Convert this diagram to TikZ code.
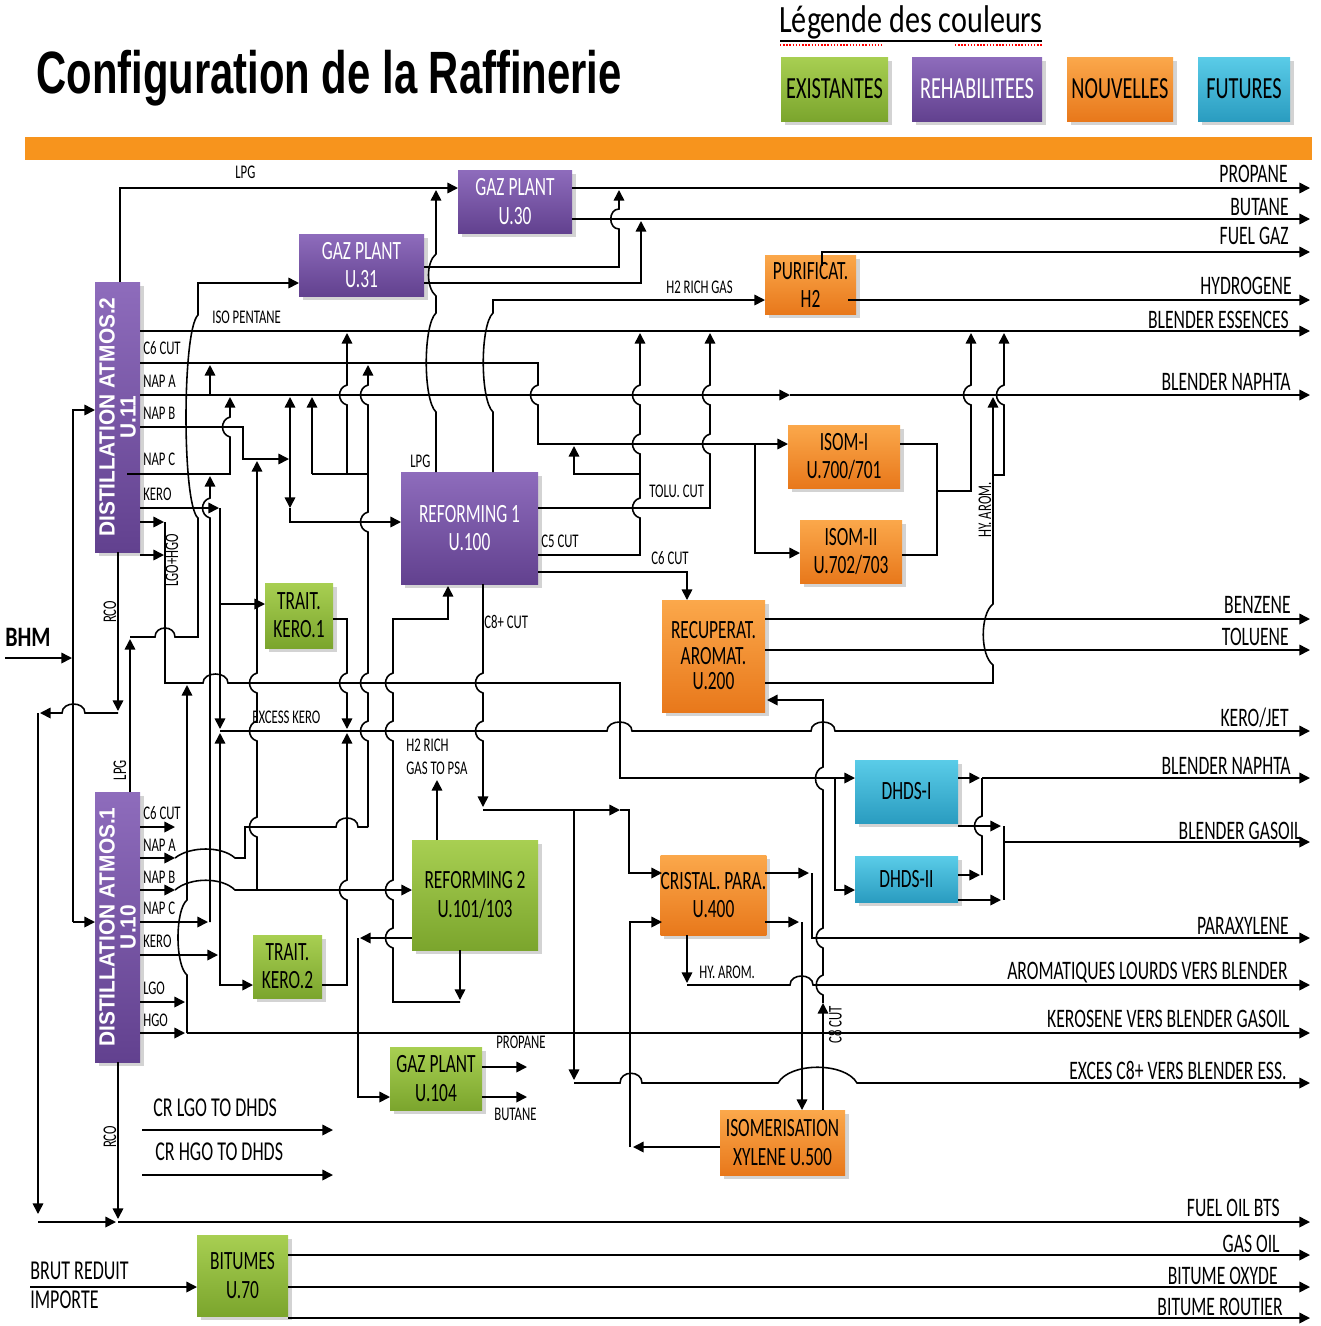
\documentclass[tikz,border=0pt]{standalone}
\usepackage{fontspec}
\setmainfont[FakeStretch=0.66]{Carlito}
\newfontfamily\titlefont[FakeStretch=0.7]{Liberation Sans}
\newfontfamily\distfont[FakeStretch=0.95]{Liberation Sans}
\newfontfamily\legfont[FakeStretch=0.78]{Carlito}
\usetikzlibrary{arrows.meta,shadows,positioning}

\definecolor{barorange}{HTML}{F7941D}
\definecolor{violetT}{HTML}{8E6CBC}
\definecolor{violetB}{HTML}{62418F}
\definecolor{vertT}{HTML}{A8CF52}
\definecolor{vertB}{HTML}{7BA52D}
\definecolor{orT}{HTML}{FBA84B}
\definecolor{orB}{HTML}{E8781B}
\definecolor{cyT}{HTML}{5ACCE8}
\definecolor{cyB}{HTML}{2A9CC0}

\tikzset{
  ln/.style={line width=0.9pt},
  arr/.style={ln, -{Triangle[length=6pt,width=6pt]}},
  plant/.style={rectangle, inner sep=0pt, align=center, font=\fontsize{15}{16}\selectfont,
    drop shadow={shadow xshift=2pt, shadow yshift=-2pt, opacity=0.35}},
  dim/.style 2 args={minimum width=#1*0.02cm, minimum height=#2*0.02cm},
  existing/.style={plant, top color=vertT, bottom color=vertB, text=black},
  rehab/.style={plant, top color=violetT, bottom color=violetB, text=white},
  newunit/.style={plant, top color=orT, bottom color=orB, text=black},
  future/.style={plant, top color=cyT, bottom color=cyB, text=black},
  lab/.style={font=\fontsize{11}{12}\selectfont, inner sep=0pt, anchor=west},
  rlab/.style={font=\fontsize{11}{12}\selectfont, inner sep=0pt, rotate=90},
  outlab/.style={font=\fontsize{15.2}{16}\selectfont, anchor=base east, inner sep=0pt},
  leglab/.style={font=\fontsize{17.5}{18}\selectfont},
  sidelab/.style={font=\fontsize{15.5}{17}\selectfont, anchor=west, inner sep=0pt},
  distlab/.style={font=\distfont\bfseries\fontsize{12.5}{12}\selectfont, text=white,
    rotate=90, align=center, inner sep=0pt},
}

\begin{document}
\begin{tikzpicture}[x=0.02cm, y=-0.02cm]
\useasboundingbox (0,0) rectangle (1320,1326);

% title and legend
\node[font=\titlefont\bfseries\fontsize{34}{36}\selectfont] (title) at (329,78) {Configuration de la Raffinerie};
\node[font=\legfont\fontsize{22}{24}\selectfont, inner sep=0pt] (legtitle) at (911,22) {Légende des couleurs};
\draw[line width=0.7pt] (780,41) -- (1042,41);
\draw[red, densely dotted, line width=0.8pt] (780,45) -- (882,45) (955,45) -- (1042,45);
\node[existing, dim={107}{64}, leglab] (legexist) at (834.5,89) {EXISTANTES};
\node[rehab, dim={130}{64}, leglab] (legrehab) at (977,89) {REHABILITEES};
\node[newunit, dim={106}{64}, leglab] (legnew) at (1120,89) {NOUVELLES};
\node[future, dim={92}{64}, leglab] (legfut) at (1244,89) {FUTURES};
\fill[barorange] (25,137) rectangle (1312,160);

% units
\node[rehab, dim={45}{270}] (atm2) at (117.5,417) {};
\node[distlab] (atm2txt) at (atm2) {DISTILLATION ATMOS.2\\U.11};
\node[rehab, dim={45}{270}] (atm1) at (117.5,927) {};
\node[distlab] (atm1txt) at (atm1) {DISTILLATION ATMOS.1\\U.10};
\node[rehab, dim={114}{63}] (gp30) at (515,201.5) {GAZ PLANT\\U.30};
\node[rehab, dim={125}{62}] (gp31) at (361.5,265) {GAZ PLANT\\U.31};
\node[rehab, dim={137}{112}] (ref1) at (469.5,528) {REFORMING 1\\U.100};
\node[newunit, dim={91}{59}] (purif) at (810.5,284.5) {PURIFICAT.\\H2};
\node[newunit, dim={112}{63}] (isom1) at (844,456.5) {ISOM-I\\U.700/701};
\node[newunit, dim={102}{63}] (isom2) at (851,551.5) {ISOM-II\\U.702/703};
\node[newunit, dim={103}{112}, font=\fontsize{15}{14.5}\selectfont] (recup) at (713.5,656) {RECUPERAT.\\AROMAT.\\U.200};
\node[newunit, dim={103}{80}] (cristal) at (713.5,895) {CRISTAL. PARA.\\U.400};
\node[newunit, dim={125}{65}] (isox) at (782.5,1142.5) {ISOMERISATION\\XYLENE U.500};
\node[existing, dim={68}{65}] (tk1) at (299,615.5) {TRAIT.\\KERO.1};
\node[existing, dim={69}{63}] (tk2) at (287.5,966.5) {TRAIT.\\KERO.2};
\node[existing, dim={126}{110}] (ref2) at (475,895) {REFORMING 2\\U.101/103};
\node[existing, dim={92}{63}] (gp104) at (436,1078.5) {GAZ PLANT\\U.104};
\node[existing, dim={91}{81}] (bit) at (242.5,1275.5) {BITUMES\\U.70};
\node[future, dim={103}{63}] (dhds1) at (906.5,791.5) {DHDS-I};
\node[future, dim={103}{46}] (dhds2) at (906.5,879) {DHDS-II};

% straight product lines to the right
\foreach \yy/\xx in {188/572, 219/572, 300/848, 331/140, 619/765, 650/765, 842/1004,
  1033/187, 1222/118, 1255/288, 1287/288, 1318/288}
  \draw[arr] (\xx,\yy) -- (1310,\yy);
\node[outlab] (oProp) at (1288,182) {PROPANE};
\node[outlab] (oBut) at (1289,215) {BUTANE};
\node[outlab] (oFuel) at (1289,244) {FUEL GAZ};
\node[outlab] (oHyd) at (1292,294) {HYDROGENE};
\node[outlab] (oEss) at (1289,328) {BLENDER ESSENCES};
\node[outlab] (oNap) at (1291,390) {BLENDER NAPHTA};
\node[outlab] (oBenz) at (1291,613) {BENZENE};
\node[outlab] (oTol) at (1289,645) {TOLUENE};
\node[outlab] (oJet) at (1289,726) {KERO/JET};
\node[outlab] (oNap2) at (1291,774) {BLENDER NAPHTA};
\node[outlab] (oGas) at (1302,839) {BLENDER GASOIL};
\node[outlab] (oPara) at (1289,934) {PARAXYLENE};
\node[outlab] (oArom) at (1288,979) {AROMATIQUES LOURDS VERS BLENDER};
\node[outlab] (oKer) at (1290,1027) {KEROSENE VERS BLENDER GASOIL};
\node[outlab] (oExc) at (1287,1079) {EXCES C8+ VERS BLENDER ESS.};
\node[outlab] (oFo) at (1280,1216) {FUEL OIL BTS};
\node[outlab] (oGo) at (1280,1252) {GAS OIL};
\node[outlab] (oBo) at (1278,1284) {BITUME OXYDE};
\node[outlab] (oBr) at (1283,1315) {BITUME ROUTIER};

% top: LPG and gaz plants
\draw[arr] (120,282) -- (120,188) -- (458,188);
\draw[arr] (424,267) -- (619,267) -- (619,229) .. controls (608,229) and (608,209) .. (619,209) -- (619,190);
\draw[arr] (424,283) -- (641,283) -- (641,221);
\draw[arr] (130,792) -- (130,639);
\draw[arr] (130,637) -- (155,637) .. controls (155,625) and (175,625) .. (175,637) -- (198,637) -- (198,518)
  .. controls (182,505) and (182,330) .. (198,315) -- (198,283) -- (299,283);
\draw[arr] (436,472) -- (436,412) .. controls (423,400) and (423,325) .. (436,313) -- (436,296)
  .. controls (426,288) and (426,262) .. (436,254) -- (436,190);
\draw[arr] (493,472) -- (493,412) .. controls (480,400) and (480,325) .. (493,313) -- (493,300) -- (765,300);
\draw[arr] (822,266) -- (822,252) -- (1310,252);

% ATMOS.2 cuts
\draw[arr] (140,363) -- (538,363) -- (538,385) .. controls (528,388) and (528,402) .. (538,405) -- (538,444) -- (788,444);
\draw[arr] (140,395) -- (790,395);
\draw[arr] (790,395) -- (1310,395);
\draw[arr] (210,395) -- (210,365);
\draw[arr] (140,427) -- (243,427) -- (243,459) -- (289,459);
\draw[arr] (290,459) -- (290,397);
\draw[arr] (290,459) -- (290,508);
\draw[arr] (290,508) -- (290,522) -- (401,522);
\draw[arr] (127,474) -- (230,474) -- (230,437) .. controls (220,434) and (220,420) .. (230,417) -- (230,397);
\draw[arr] (140,508) -- (219,508);
\draw[arr] (220,508) -- (220,604) -- (265,604);
\draw[arr] (220,604) -- (220,729);
\draw[arr] (140,522) -- (164,522);
\draw[arr] (140,555) -- (164,555);
\draw[arr] (165,522) -- (165,683) -- (203,683) .. controls (203,671) and (228,671) .. (228,683) -- (620,683) -- (620,778) -- (855,778);
\draw[arr] (835,778) -- (835,890) -- (855,890);

% naphtha branches
\draw[arr] (368,827) -- (368,741) .. controls (358,738) and (358,724) .. (368,721) -- (368,693)
  .. controls (358,690) and (358,676) .. (368,673) -- (368,532) .. controls (358,529) and (358,515) .. (368,512)
  -- (368,405) .. controls (358,402) and (358,388) .. (368,385) -- (368,365);
\draw[ln] (312,474) -- (368,474);
\draw[arr] (312,474) -- (312,397);
\draw[arr] (347,474) -- (347,405) .. controls (337,402) and (337,388) .. (347,385) -- (347,333);

% kero
\draw[arr] (333,619) -- (347,619) -- (347,673) .. controls (337,676) and (337,690) .. (347,693) -- (347,729);
\draw[arr] (220,731) -- (607,731) .. controls (607,719) and (632,719) .. (632,731) -- (811,731)
  .. controls (811,719) and (835,719) .. (835,731) -- (1310,731);
\draw[arr] (322,985) -- (347,985) -- (347,900) .. controls (337,897) and (337,883) .. (347,880) -- (347,733);

% reforming 2 to reforming 1
\draw[arr] (460,950) -- (460,1000);
\draw[arr] (460,1002) -- (393,1002) -- (393,948) .. controls (383,945) and (383,931) .. (393,928) -- (393,900)
  .. controls (383,897) and (383,883) .. (393,880) -- (393,741) .. controls (383,738) and (383,724) .. (393,721)
  -- (393,693) .. controls (383,690) and (383,676) .. (393,673) -- (393,619) -- (448,619) -- (448,586);

% ATMOS.1 cuts
\draw[arr] (140,827) -- (175,827);
\draw[arr] (140,858) -- (175,858);
\draw[ln] (175,858) .. controls (190,846) and (222,846) .. (235,858) -- (245,858) -- (245,827) -- (336,827)
  .. controls (336,815) and (358,815) .. (358,827) -- (368,827);
\draw[arr] (140,890) -- (175,890);
\draw[arr] (175,890) .. controls (190,877) and (222,877) .. (235,890) -- (412,890);
\draw[arr] (140,922) -- (208,922);
\draw[arr] (140,955) -- (218,955);
\draw[arr] (140,1002) -- (185,1002);
\draw[arr] (140,1033) -- (185,1033);
\draw[arr] (210,922) -- (210,518) .. controls (200,515) and (200,501) .. (210,498) -- (210,476);
\draw[arr] (220,955) -- (220,733);
\draw[arr] (220,955) -- (220,985) -- (253,985);
\draw[arr] (257,890) -- (257,837) .. controls (247,834) and (247,820) .. (257,817) -- (257,741)
  .. controls (247,738) and (247,724) .. (257,721) -- (257,693) .. controls (247,690) and (247,676) .. (257,673) -- (257,461);
\draw[arr] (187,1033) -- (187,975) .. controls (175,965) and (175,910) .. (187,900) -- (187,685);

% reforming 2 and gaz plant U.104
\draw[arr] (412,938) -- (360,938);
\draw[arr] (358,938) -- (358,1097) -- (390,1097);
\draw[arr] (437,840) -- (437,780);
\draw[arr] (482,1067) -- (527,1067);
\draw[arr] (482,1097) -- (527,1097);

% reforming 1 products
\draw[arr] (483,584) -- (483,673) .. controls (473,676) and (473,690) .. (483,693) -- (483,721)
  .. controls (473,724) and (473,738) .. (483,741) -- (483,807);
\draw[arr] (483,810) -- (620,810);
\draw[arr] (620,810) -- (629,810) -- (629,873) -- (662,873);
\draw[arr] (574,810) -- (574,1080);
\draw[arr] (574,1083) -- (620,1083) .. controls (620,1070) and (642,1070) .. (642,1083) -- (778,1083)
  .. controls (790,1062) and (845,1062) .. (857,1083) -- (1310,1083);
\draw[arr] (538,572) -- (687,572) -- (687,600);
\draw[arr] (538,555) -- (640,555) -- (640,518) .. controls (630,515) and (630,501) .. (640,498) -- (640,454)
  .. controls (630,451) and (630,437) .. (640,434) -- (640,405) .. controls (630,402) and (630,388) .. (640,385) -- (640,333);
\draw[arr] (640,474) -- (574,474) -- (574,446);
\draw[arr] (538,508) -- (710,508) -- (710,454) .. controls (700,451) and (700,437) .. (710,434) -- (710,405)
  .. controls (700,402) and (700,388) .. (710,385) -- (710,333);

% isomerisation
\draw[arr] (755,444) -- (755,553) -- (800,553);
\draw[ln] (900,444) -- (937,444) -- (937,555) -- (902,555);
\draw[arr] (937,491) -- (971,491) -- (971,405) .. controls (961,402) and (961,388) .. (971,385) -- (971,333);

% aromatics
\draw[arr] (765,683) -- (993,683) -- (993,665) .. controls (980,655) and (980,614) .. (993,604) -- (993,397);
\draw[arr] (993,475) -- (1004,475) -- (1004,405) .. controls (994,402) and (994,388) .. (1004,385) -- (1004,333);
\draw[arr] (823,1110) -- (823,1003);
\draw[arr] (823,1003) -- (823,995) .. controls (814,992) and (814,978) .. (823,975) -- (823,948)
  .. controls (814,945) and (814,931) .. (823,928) -- (823,790) .. controls (813,787) and (813,770) .. (823,767)
  -- (823,700) -- (767,700);
\draw[arr] (765,873) -- (809,873);
\draw[arr] (812,873) -- (812,938) -- (1310,938);
\draw[arr] (765,922) -- (799,922);
\draw[arr] (802,922) -- (802,1110);
\draw[arr] (687,935) -- (687,983);
\draw[arr] (687,985) -- (790,985) .. controls (790,973) and (813,973) .. (813,985) -- (1310,985);
\draw[arr] (720,1147) -- (633,1147);
\draw[arr] (630,1147) -- (630,922) -- (662,922);

% DHDS
\draw[arr] (958,778) -- (980,778);
\draw[arr] (982,778) -- (1310,778);
\draw[arr] (958,826) -- (1001,826);
\draw[arr] (958,875) -- (980,875);
\draw[ln] (982,875) -- (982,836) .. controls (972,833) and (972,819) .. (982,816) -- (982,778);
\draw[arr] (958,900) -- (1001,900);
\draw[ln] (1004,826) -- (1004,900);

% crude feed and residues
\draw[arr] (5,658) -- (72,658);
\draw[arr] (73,922) -- (73,410) -- (95,410);
\draw[arr] (73,922) -- (95,922);
\draw[arr] (118,552) -- (118,711);
\draw[arr] (118,713) -- (85,713) .. controls (85,701) and (62,701) .. (62,713) -- (40,713);
\draw[arr] (38,713) -- (38,1214);
\draw[arr] (38,1222) -- (116,1222);
\draw[arr] (118,1062) -- (118,1219);
\draw[arr] (142,1130) -- (333,1130);
\draw[arr] (142,1175) -- (333,1175);
\draw[arr] (30,1287) -- (197,1287);

% stream labels
\node[lab] (lLpg2) at (235,172) {LPG};
\node[lab] (lLpgR) at (410,461) {LPG};
\node[lab] (lIso) at (212,317) {ISO PENTANE};
\node[lab] (lC6a) at (143,348) {C6 CUT};
\node[lab] (lNAa) at (143,381) {NAP A};
\node[lab] (lNBa) at (143,413) {NAP B};
\node[lab] (lNCa) at (143,459) {NAP C};
\node[lab] (lKa) at (143,494) {KERO};
\node[lab] (lC6b) at (143,813) {C6 CUT};
\node[lab] (lNAb) at (143,845) {NAP A};
\node[lab] (lNBb) at (143,877) {NAP B};
\node[lab] (lNCb) at (143,908) {NAP C};
\node[lab] (lKb) at (143,941) {KERO};
\node[lab] (lLgo) at (143,988) {LGO};
\node[lab] (lHgo) at (143,1020) {HGO};
\node[lab] (lH2) at (666,287) {H2 RICH GAS};
\node[lab] (lTolu) at (649,491) {TOLU. CUT};
\node[lab] (lC5) at (541,541) {C5 CUT};
\node[lab] (lC6r) at (651,558) {C6 CUT};
\node[lab] (lC8) at (484,622) {C8+ CUT};
\node[lab] (lExk) at (252,717) {EXCESS KERO};
\node[lab] (lPsa1) at (406,745) {H2 RICH};
\node[lab] (lPsa2) at (406,768) {GAS TO PSA};
\node[lab] (lHya) at (699,972) {HY. AROM.};
\node[lab] (lPro) at (496,1042) {PROPANE};
\node[lab] (lBut) at (494,1114) {BUTANE};
\node[rlab] (lLpg1) at (120,770) {LPG};
\node[rlab] (lRco2) at (110,612) {RCO};
\node[rlab] (lRco1) at (110,1137) {RCO};
\node[rlab] (lLh) at (172,560) {LGO+HGO};
\node[rlab] (lHyv) at (985,510) {HY. AROM.};
\node[rlab] (lC8v) at (835,1025) {C8 CUT};
\node[font=\legfont\bfseries\fontsize{16}{18}\selectfont, anchor=west, inner sep=0pt] (lBhm) at (5,637) {BHM};
\node[sidelab] (lCrl) at (153,1108) {CR LGO TO DHDS};
\node[sidelab] (lCrh) at (155,1152) {CR HGO TO DHDS};
\node[sidelab] (lBrut) at (30,1271) {BRUT REDUIT};
\node[sidelab] (lImp) at (30,1300) {IMPORTE};
\end{tikzpicture}
\end{document}
